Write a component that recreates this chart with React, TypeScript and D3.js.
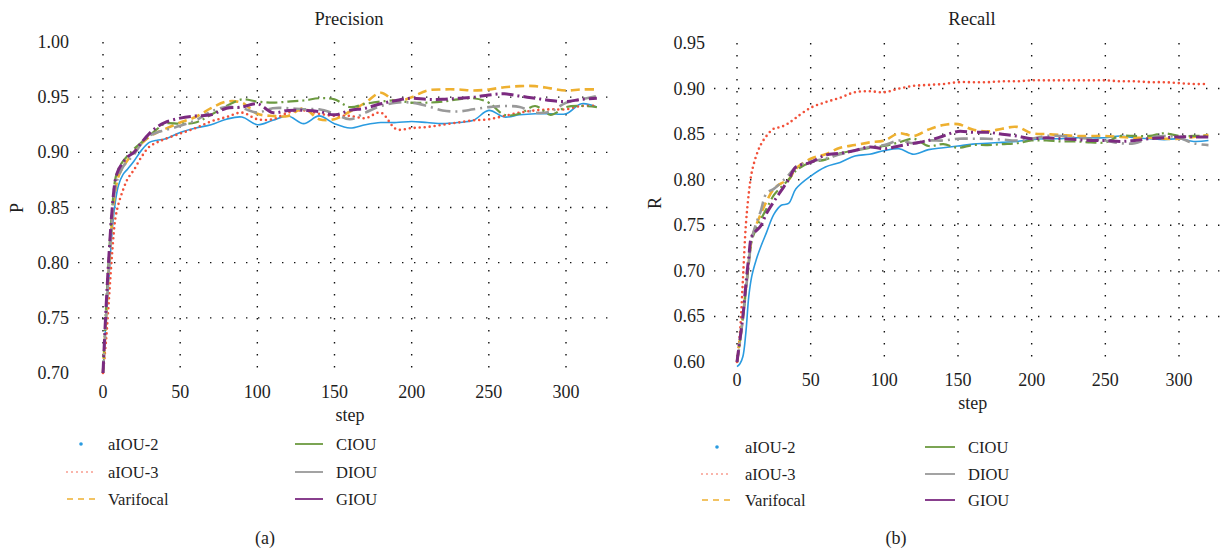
import React from 'react'
import * as d3 from 'd3'

const steps = [0, 2, 4, 6, 8, 10, 13, 16, 20, 25, 30, 35, 40, 50, 60, 70, 80, 90, 100, 110, 120, 130, 140, 150, 160, 170, 180, 190, 200, 210, 220, 230, 240, 250, 260, 270, 280, 290, 300, 310, 320]
const seriesNames = ['aIOU-2', 'aIOU-3', 'Varifocal', 'CIOU', 'DIOU', 'GIOU']

// precision per series
const pAiou2 = [0.70, 0.75, 0.79, 0.83, 0.855, 0.87, 0.88, 0.885, 0.892, 0.902, 0.909, 0.911, 0.912, 0.918, 0.922, 0.925, 0.930, 0.932, 0.925, 0.929, 0.933, 0.926, 0.933, 0.926, 0.922, 0.925, 0.927, 0.927, 0.928, 0.927, 0.926, 0.927, 0.929, 0.938, 0.932, 0.934, 0.935, 0.935, 0.935, 0.944, 0.941]
const pAiou3 = [0.70, 0.73, 0.77, 0.81, 0.84, 0.853, 0.866, 0.876, 0.884, 0.896, 0.905, 0.909, 0.912, 0.917, 0.922, 0.928, 0.932, 0.936, 0.930, 0.930, 0.936, 0.938, 0.935, 0.933, 0.933, 0.931, 0.936, 0.921, 0.922, 0.923, 0.925, 0.927, 0.929, 0.930, 0.933, 0.936, 0.938, 0.939, 0.939, 0.942, 0.942]
const pVari = [0.70, 0.75, 0.80, 0.84, 0.865, 0.878, 0.887, 0.893, 0.900, 0.908, 0.914, 0.918, 0.921, 0.927, 0.932, 0.940, 0.946, 0.945, 0.935, 0.933, 0.933, 0.940, 0.930, 0.930, 0.937, 0.945, 0.954, 0.946, 0.950, 0.956, 0.957, 0.957, 0.956, 0.957, 0.959, 0.960, 0.960, 0.958, 0.956, 0.957, 0.957]
const pCiou = [0.70, 0.76, 0.81, 0.85, 0.876, 0.885, 0.892, 0.897, 0.903, 0.909, 0.915, 0.921, 0.926, 0.926, 0.927, 0.934, 0.942, 0.948, 0.946, 0.945, 0.946, 0.947, 0.949, 0.948, 0.941, 0.944, 0.946, 0.947, 0.945, 0.945, 0.946, 0.948, 0.949, 0.945, 0.934, 0.935, 0.942, 0.934, 0.941, 0.942, 0.941]
const pDiou = [0.70, 0.75, 0.80, 0.84, 0.868, 0.878, 0.887, 0.892, 0.898, 0.908, 0.915, 0.918, 0.920, 0.924, 0.929, 0.937, 0.941, 0.940, 0.936, 0.940, 0.940, 0.939, 0.939, 0.935, 0.930, 0.936, 0.942, 0.945, 0.945, 0.942, 0.938, 0.937, 0.939, 0.941, 0.942, 0.941, 0.936, 0.937, 0.945, 0.948, 0.951]
const pGiou = [0.70, 0.76, 0.81, 0.85, 0.875, 0.884, 0.891, 0.896, 0.900, 0.909, 0.917, 0.923, 0.927, 0.931, 0.933, 0.934, 0.940, 0.941, 0.944, 0.936, 0.938, 0.938, 0.937, 0.934, 0.938, 0.940, 0.944, 0.947, 0.949, 0.948, 0.948, 0.949, 0.950, 0.952, 0.953, 0.951, 0.949, 0.947, 0.946, 0.948, 0.949]

// recall per series
const rAiou2 = [0.595, 0.598, 0.606, 0.632, 0.672, 0.694, 0.712, 0.726, 0.742, 0.762, 0.772, 0.774, 0.790, 0.804, 0.814, 0.819, 0.826, 0.828, 0.832, 0.834, 0.828, 0.833, 0.835, 0.837, 0.839, 0.840, 0.841, 0.842, 0.844, 0.845, 0.845, 0.846, 0.846, 0.846, 0.848, 0.846, 0.845, 0.844, 0.845, 0.842, 0.843]
const rAiou3 = [0.60, 0.632, 0.69, 0.75, 0.785, 0.808, 0.826, 0.838, 0.848, 0.856, 0.858, 0.862, 0.868, 0.879, 0.885, 0.890, 0.896, 0.897, 0.896, 0.900, 0.903, 0.904, 0.905, 0.907, 0.907, 0.907, 0.908, 0.908, 0.909, 0.909, 0.909, 0.909, 0.909, 0.909, 0.908, 0.908, 0.907, 0.907, 0.906, 0.905, 0.905]
const rVari = [0.60, 0.625, 0.65, 0.68, 0.71, 0.735, 0.75, 0.762, 0.776, 0.79, 0.796, 0.80, 0.812, 0.823, 0.828, 0.835, 0.838, 0.841, 0.843, 0.851, 0.848, 0.855, 0.860, 0.861, 0.855, 0.853, 0.856, 0.858, 0.851, 0.850, 0.849, 0.848, 0.848, 0.848, 0.847, 0.846, 0.846, 0.845, 0.845, 0.847, 0.849]
const rCiou = [0.60, 0.622, 0.648, 0.678, 0.708, 0.733, 0.746, 0.756, 0.768, 0.783, 0.792, 0.800, 0.810, 0.819, 0.822, 0.829, 0.832, 0.835, 0.837, 0.841, 0.845, 0.837, 0.839, 0.835, 0.838, 0.838, 0.839, 0.840, 0.843, 0.843, 0.842, 0.842, 0.841, 0.841, 0.848, 0.848, 0.848, 0.851, 0.848, 0.848, 0.848]
const rDiou = [0.60, 0.622, 0.648, 0.678, 0.708, 0.735, 0.752, 0.765, 0.785, 0.790, 0.797, 0.805, 0.814, 0.820, 0.823, 0.828, 0.832, 0.836, 0.838, 0.843, 0.840, 0.843, 0.843, 0.845, 0.845, 0.845, 0.844, 0.843, 0.845, 0.848, 0.848, 0.846, 0.845, 0.843, 0.840, 0.840, 0.846, 0.848, 0.846, 0.840, 0.838]
const rGiou = [0.60, 0.625, 0.65, 0.685, 0.715, 0.738, 0.744, 0.749, 0.763, 0.776, 0.788, 0.800, 0.814, 0.819, 0.827, 0.829, 0.832, 0.836, 0.834, 0.837, 0.840, 0.843, 0.848, 0.853, 0.852, 0.852, 0.850, 0.848, 0.845, 0.846, 0.845, 0.844, 0.843, 0.843, 0.842, 0.843, 0.845, 0.846, 0.847, 0.847, 0.847]

const xTicks = [0, 50, 100, 150, 200, 250, 300]
const pTicks = [0.70, 0.75, 0.80, 0.85, 0.90, 0.95, 1.00]
const rTicks = [0.60, 0.65, 0.70, 0.75, 0.80, 0.85, 0.90, 0.95]

const STYLES = [
  { color: '#2a9be0', width: 1.6, dash: null, cap: 'butt' },
  { color: '#f2513a', width: 2.6, dash: '0 5', cap: 'round' },
  { color: '#eeb030', width: 2.6, dash: '9 5', cap: 'butt' },
  { color: '#6c9a40', width: 2.2, dash: '11 4 2 4', cap: 'butt' },
  { color: '#999999', width: 2.6, dash: '13 5 2 5', cap: 'butt' },
  { color: '#7b2a80', width: 3, dash: '12 4 2 4', cap: 'butt' }
]

const FONT = 'Liberation Serif, Times New Roman, DejaVu Serif, serif'
const TXT = '#1e1e1e'
const txtStyle = { fontFamily: FONT }

const Panel = ({ cfg }) => {
  const x = d3.scaleLinear().domain([0, 300]).range(cfg.xRange)
  const y = d3.scaleLinear().domain(cfg.yDomain).range(cfg.yRange)
  const line = d3.line().x((d) => x(d[0])).y((d) => y(d[1])).curve(d3.curveCatmullRom)
  const [gx0, gx1] = cfg.gridX
  const yTop = y(cfg.yDomain[1])
  const yBot = y(cfg.yDomain[0])
  const lg = cfg.legend

  return (
    <g fill={TXT}>
      <text x={cfg.titleX} y={19} textAnchor="middle" dominantBaseline="central" fontSize={18.5} style={txtStyle}>{cfg.title}</text>
      {cfg.hGrid.map((t) => (
        <line key={'h' + t} x1={gx0} x2={gx1} y1={y(t)} y2={y(t)}
          stroke="#111" strokeWidth={1.4} strokeDasharray="1.4 10.6" />
      ))}
      {xTicks.map((t) => (
        <line key={'v' + t} x1={x(t)} x2={x(t)} y1={yTop} y2={yBot}
          stroke="#111" strokeWidth={1.4} strokeDasharray="1.4 10.6" />
      ))}
      {cfg.yTicks.map((t) => (
        <text key={'yt' + t} x={cfg.yLabelX} y={y(t)} textAnchor="end"
          dominantBaseline="central" fontSize={18} style={txtStyle}>{t.toFixed(2)}</text>
      ))}
      {xTicks.map((t) => (
        <text key={'xt' + t} x={x(t)} y={cfg.xLabelY} textAnchor="middle"
          dominantBaseline="central" fontSize={18} style={txtStyle}>{t}</text>
      ))}
      <text x={x(160)} y={cfg.xLabelY + 23} textAnchor="middle" dominantBaseline="central" fontSize={18} style={txtStyle}>step</text>
      <text transform={`translate(${cfg.axisLabelX},${cfg.axisLabelY}) rotate(-90)`}
        textAnchor="middle" dominantBaseline="central" fontSize={18} style={txtStyle}>{cfg.axisLabel}</text>

      {cfg.series.map((vals, i) => {
        const s = STYLES[i]
        const pts = steps.map((st, j) => [st, vals[j]])
        return (
          <path key={'s' + i} d={line(pts)} fill="none" stroke={s.color}
            strokeWidth={s.width} strokeDasharray={s.dash || undefined}
            strokeLinecap={s.cap} strokeLinejoin="round" />
        )
      })}

      {seriesNames.map((name, i) => {
        const col = i < 3 ? 0 : 1
        const row = i % 3
        const x0 = lg.colX[col]
        const yy = lg.rowY[row]
        const s = STYLES[i]
        return (
          <g key={'lg' + i}>
            {i === 0 ? (
              <circle cx={x0 + lg.lineW / 2} cy={yy} r={1.8} fill={s.color} />
            ) : (
              <line x1={x0} x2={x0 + lg.lineW} y1={yy} y2={yy} stroke={s.color}
                strokeWidth={i === 1 ? 1.6 : i === 2 ? 1.6 : 1.8}
                strokeDasharray={i === 1 ? '0 5' : i === 2 ? '6 5' : undefined}
                strokeLinecap={i === 1 ? 'round' : 'butt'} />
            )}
            <text x={x0 + lg.textDx} y={yy} dominantBaseline="central" fontSize={16.5} style={txtStyle}>{name}</text>
          </g>
        )
      })}
      <text x={cfg.capX} y={538} textAnchor="middle" dominantBaseline="central" fontSize={18} style={txtStyle}>{cfg.caption}</text>
    </g>
  )
}

const precisionCfg = {
  title: 'Precision', titleX: 349, caption: '(a)', capX: 265,
  xRange: [103, 566], yDomain: [0.70, 1.00], yRange: [373, 42],
  gridX: [78, 618], hGrid: [0.75, 0.80, 0.85, 0.90, 0.95],
  yTicks: pTicks, yLabelX: 69, xLabelY: 392,
  axisLabel: 'P', axisLabelX: 17, axisLabelY: 208,
  series: [pAiou2, pAiou3, pVari, pCiou, pDiou, pGiou],
  legend: { colX: [67, 295], rowY: [444, 472, 499], lineW: 28, textDx: 41 }
}

const recallCfg = {
  title: 'Recall', titleX: 972, caption: '(b)', capX: 896,
  xRange: [737, 1179], yDomain: [0.60, 0.95], yRange: [362, 43],
  gridX: [714, 1220], hGrid: [0.65, 0.70, 0.75, 0.80, 0.85, 0.90],
  yTicks: rTicks, yLabelX: 705, xLabelY: 380,
  axisLabel: 'R', axisLabelX: 655, axisLabelY: 203,
  series: [rAiou2, rAiou3, rVari, rCiou, rDiou, rGiou],
  legend: { colX: [702, 925], rowY: [447, 474, 500], lineW: 30, textDx: 43 }
}

export default function App() {
  return (
    <svg width={1220} height={551} style={{ position: 'absolute', left: 0, top: 0, background: '#fff' }}>
      <rect width={1220} height={551} fill="#fff" />
      <Panel cfg={precisionCfg} />
      <Panel cfg={recallCfg} />
    </svg>
  )
}
